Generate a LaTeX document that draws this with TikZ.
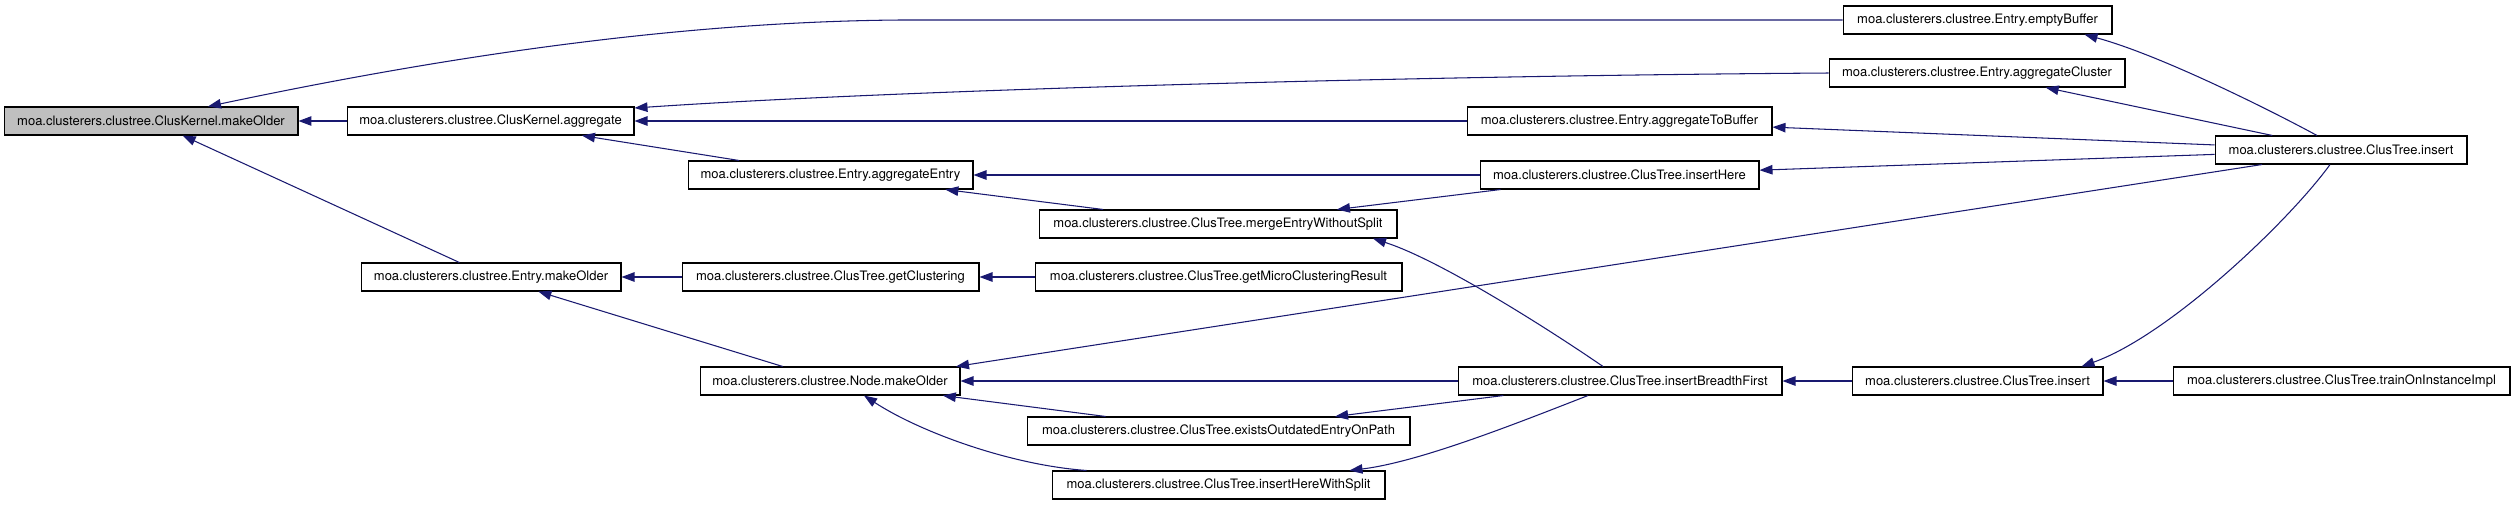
\documentclass[tikz,border=0pt]{standalone}
\usepackage{fontspec}
\setmainfont{TeX Gyre Heros}
\definecolor{edgeblue}{RGB}{25,25,112}
\definecolor{callgray}{RGB}{191,191,191}
\usetikzlibrary{arrows.meta,positioning,calc}

\begin{document}
\begin{tikzpicture}[x=0.02cm,y=-0.02cm,
  fn/.style={draw=black,line width=0.6pt,fill=white,minimum height=0.56cm,inner sep=0pt,
    font=\fontsize{7.4}{8}\selectfont},
  call/.style={-{Triangle[length=0.26cm,width=0.19cm]},edgeblue,line width=0.6pt}
]
  \useasboundingbox (0,0) rectangle (2515,505);

  % Called functions
  \node[fn,fill=callgray,minimum width=5.88cm] (mko) at (151,121) {moa.clusterers.clustree.ClusKernel.makeOlder};
  \node[fn,minimum width=5.74cm] (agg) at (490.5,121) {moa.clusterers.clustree.ClusKernel.aggregate};
  \node[fn,minimum width=5.20cm] (emk) at (491,277) {moa.clusterers.clustree.Entry.makeOlder};
  \node[fn,minimum width=5.70cm] (aen) at (830.5,175) {moa.clusterers.clustree.Entry.aggregateEntry};
  \node[fn,minimum width=5.94cm] (gcl) at (830.5,277) {moa.clusterers.clustree.ClusTree.getClustering};
  \node[fn,minimum width=5.20cm] (nmk) at (830,381) {moa.clusterers.clustree.Node.makeOlder};
  \node[fn,minimum width=7.16cm] (mew) at (1218,224) {moa.clusterers.clustree.ClusTree.mergeEntryWithoutSplit};
  \node[fn,minimum width=7.34cm] (gmc) at (1218.5,277) {moa.clusterers.clustree.ClusTree.getMicroClusteringResult};
  \node[fn,minimum width=7.66cm] (eoe) at (1218.5,431) {moa.clusterers.clustree.ClusTree.existsOutdatedEntryOnPath};
  \node[fn,minimum width=6.66cm] (ihs) at (1218.5,485) {moa.clusterers.clustree.ClusTree.insertHereWithSplit};
  \node[fn,minimum width=6.10cm] (atb) at (1619.5,121) {moa.clusterers.clustree.Entry.aggregateToBuffer};
  \node[fn,minimum width=5.58cm] (ihe) at (1619.5,175) {moa.clusterers.clustree.ClusTree.insertHere};
  \node[fn,minimum width=6.48cm] (ibf) at (1620,381) {moa.clusterers.clustree.ClusTree.insertBreadthFirst};
  \node[fn,minimum width=5.38cm] (ebf) at (1977.5,20) {moa.clusterers.clustree.Entry.emptyBuffer};
  \node[fn,minimum width=5.92cm] (acl) at (1977,73) {moa.clusterers.clustree.Entry.aggregateCluster};
  \node[fn,minimum width=5.02cm] (inb) at (1977.5,381) {moa.clusterers.clustree.ClusTree.insert};
  \node[fn,minimum width=5.04cm] (ins) at (2341,150) {moa.clusterers.clustree.ClusTree.insert};
  \node[fn,minimum width=6.74cm] (toi) at (2341.5,381) {moa.clusterers.clustree.ClusTree.trainOnInstanceImpl};

  % Callers
  \draw[call] (agg) -- (mko);
  \draw[call] (emk) -- (mko);
  \draw[call] (ebf.west) -- (900,20) .. controls (650,22) and (400,66) .. ($(mko.north)+(57,0)$);
  \draw[call] (acl.west) .. controls (1400,76) and (900,90) .. ($(agg.east)+(0,-13)$);
  \draw[call] (atb) -- (agg);
  \draw[call] (aen) -- (agg);
  \draw[call] (ihe) -- (aen);
  \draw[call] (mew) -- (aen);
  \draw[call] (ihe) -- (mew);
  \draw[call] (ibf.north) ++(-17,0) .. controls (1550,330) and (1440,260) .. ($(mew.south)+(155,0)$);
  \draw[call] (gcl) -- (emk);
  \draw[call] (gmc) -- (gcl);
  \draw[call] (nmk) -- (emk);
  \draw[call] (ibf) -- (nmk);
  \draw[call] (eoe) -- (nmk);
  \draw[call] (ibf) -- (eoe);
  \draw[call] ($(ihs.north)+(-132,0)$) .. controls (1010,465) and (920,432) .. ($(nmk.south)+(34,0)$);
  \draw[call] ($(ibf.south)+(-32,0)$) .. controls (1520,422) and (1420,462) .. ($(ihs.north)+(131,0)$);
  \draw[call] ($(ins.south)+(-79,0)$) -- ($(nmk.north)+(126,0)$);
  \draw[call] ($(ins.north)+(-24,0)$) .. controls (2270,110) and (2160,55) .. ($(ebf.south)+(107,0)$);
  \draw[call] (ins) -- (acl);
  \draw[call] (ins) -- (atb);
  \draw[call] (ins) -- (ihe);
  \draw[call] ($(ins.south)+(-11,0)$) .. controls (2290,220) and (2170,335) .. ($(inb.north)+(104,0)$);
  \draw[call] (inb) -- (ibf);
  \draw[call] (toi) -- (inb);
\end{tikzpicture}
\end{document}
